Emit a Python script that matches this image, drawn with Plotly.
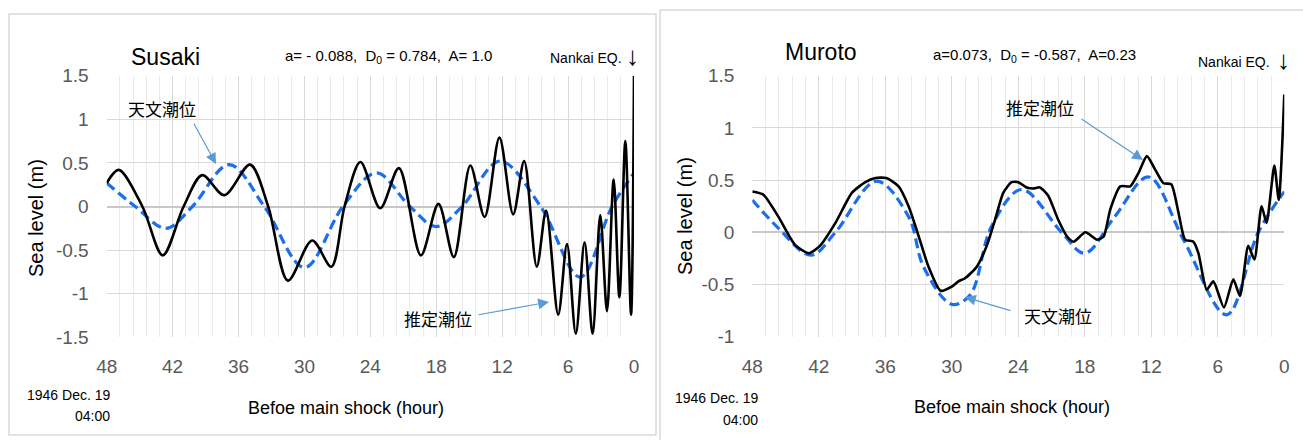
import plotly.graph_objects as go

# ---------------- data ----------------
hour_ticks = [48, 42, 36, 30, 24, 18, 12, 6, 0]
hour_tick_text = ["48", "42", "36", "30", "24", "18", "12", "6", "0"]

susaki_y_ticks = [1.5, 1.0, 0.5, 0.0, -0.5, -1.0, -1.5]
susaki_y_text = ["1.5", "1", "0.5", "0", "-0.5", "-1", "-1.5"]
muroto_y_ticks = [1.5, 1.0, 0.5, 0.0, -0.5, -1.0]
muroto_y_text = ["1.5", "1", "0.5", "0", "-0.5", "-1"]

# Susaki: estimated tide (black)
susaki_est_h = [48, 46.9, 44.75, 42.9, 41.0, 39.3, 37.3, 34.95, 33.3, 31.5, 29.3, 27.55,
                26.35, 24.9, 23.1, 21.4, 19.4, 17.8, 16.4, 14.9, 13.6, 12.25, 11.0, 10.0,
                8.85, 8.0, 6.9, 6.1, 5.3, 4.5, 3.77, 3.07, 2.46, 1.85, 1.33, 0.79, 0.27, 0.0]
susaki_est_v = [0.27, 0.42, 0.0, -0.56, 0.0, 0.36, 0.13, 0.48, 0.0, -0.85, -0.39, -0.69,
                0.0, 0.51, -0.02, 0.44, -0.56, 0.03, -0.58, 0.47, -0.12, 0.79, -0.09, 0.52,
                -0.69, -0.05, -1.24, -0.43, -1.46, -0.41, -1.46, -0.1, -1.2, 0.31, -1.04, 0.75, -1.24, 1.5]

# Susaki: astronomical tide (blue dashed)
susaki_ast_h = [48, 45.4, 42.6, 40.2, 36.85, 33.65, 30.0, 26.5, 23.45, 20.4, 18.0, 15.65,
                12.2, 8.5, 4.9, 2.0, 0.0]
susaki_ast_v = [0.27, 0.0, -0.25, 0.0, 0.48, 0.0, -0.7, 0.0, 0.385, 0.0, -0.23, 0.0,
                0.52, 0.0, -0.81, 0.0, 0.385]

# Muroto: estimated tide (black)
muroto_est_h = [48, 47.0, 45.65, 44.15, 42.9, 41.9, 40.5, 39.0, 37.8, 36.9, 35.9, 34.8,
                33.9, 33.1, 32.1, 31.0, 30.0, 29.4, 28.8, 27.75, 26.85, 26.1, 25.35, 24.6,
                24.0, 23.25, 22.65, 22.05, 21.3, 20.4, 19.6, 19.0, 17.95, 16.9, 16.3, 15.7,
                14.8, 13.9, 13.15, 12.4, 11.65, 10.9, 10.2, 9.55, 8.95, 8.2, 7.75, 7.0,
                6.4, 5.45, 4.6, 4.0, 3.25, 2.7, 2.05, 1.6, 0.9, 0.5, 0.0]
muroto_est_v = [0.39, 0.36, 0.15, -0.12, -0.2, -0.13, 0.09, 0.38, 0.48, 0.52, 0.52, 0.44,
                0.25, 0.0, -0.33, -0.56, -0.52, -0.47, -0.44, -0.33, -0.13, 0.12, 0.38, 0.48,
                0.48, 0.43, 0.42, 0.43, 0.35, 0.12, -0.04, -0.09, 0.0, -0.07, -0.04, 0.22,
                0.44, 0.44, 0.57, 0.73, 0.6, 0.47, 0.46, 0.19, -0.07, -0.09, -0.2, -0.55,
                -0.47, -0.72, -0.45, -0.61, -0.13, -0.26, 0.25, 0.09, 0.64, 0.31, 1.32]

# Muroto: astronomical tide (blue dashed)
muroto_ast_h = [48, 45.65, 42.7, 40.5, 36.8, 33.9, 32.55, 30.0, 28.35, 26.4, 23.7, 20.1,
                18.0, 15.3, 12.25, 9.1, 5.2, 2.35, 0.0]
muroto_ast_v = [0.31, 0.04, -0.22, 0.0, 0.49, 0.15, -0.33, -0.69, -0.6, 0.06, 0.41, 0.0,
                -0.2, 0.15, 0.53, -0.07, -0.79, 0.0, 0.39]

# ---------------- styling ----------------
W, H = 1303, 440
SANS = "Liberation Sans, Arial, sans-serif"
CJK = "Noto Sans CJK JP, Noto Sans CJK SC, sans-serif"
BLUE = "#1C6FE8"
ARROW = "#5B9BD5"
TICK = "#595959"


def px(x):
    return x / W


def py(y):
    return 1 - y / H


fig = go.Figure()

fig.add_trace(go.Scatter(x=susaki_ast_h, y=susaki_ast_v, mode="lines", xaxis="x", yaxis="y",
                         line=dict(color=BLUE, width=3.2, dash="10px,5px", shape="spline", smoothing=1.0),
                         showlegend=False, hoverinfo="skip"))
fig.add_trace(go.Scatter(x=susaki_est_h, y=susaki_est_v, mode="lines", xaxis="x", yaxis="y",
                         line=dict(color="black", width=2.6, shape="spline", smoothing=0.9),
                         showlegend=False, hoverinfo="skip"))
fig.add_trace(go.Scatter(x=muroto_ast_h, y=muroto_ast_v, mode="lines", xaxis="x2", yaxis="y2",
                         line=dict(color=BLUE, width=3.2, dash="10px,5px", shape="spline", smoothing=1.0),
                         showlegend=False, hoverinfo="skip"))
fig.add_trace(go.Scatter(x=muroto_est_h, y=muroto_est_v, mode="lines", xaxis="x2", yaxis="y2",
                         line=dict(color="black", width=2.6, shape="spline", smoothing=0.6),
                         showlegend=False, hoverinfo="skip"))

xcommon = dict(range=[48, 0], tickvals=hour_ticks, ticktext=hour_tick_text,
               showgrid=True, gridcolor="#D9D9D9", gridwidth=1.2,
               minor=dict(dtick=1.2, tick0=0, showgrid=True, gridcolor="#EBEBEB", gridwidth=1),
               zeroline=False, showline=False, ticks="", automargin=False,
               tickfont=dict(family=SANS, size=19, color=TICK), ticklabelstandoff=16,
               fixedrange=True)
ycommon = dict(showgrid=True, gridcolor="#D9D9D9", gridwidth=1.2,
               zeroline=True, zerolinecolor="#C8C8C8", zerolinewidth=1.5,
               showline=False, ticks="", automargin=False,
               tickfont=dict(family=SANS, size=19, color=TICK), ticklabelstandoff=17,
               fixedrange=True)

fig.update_layout(
    template="none",
    width=W, height=H, autosize=False,
    margin=dict(l=0, r=0, t=0, b=0, pad=0, autoexpand=False),
    paper_bgcolor="white", plot_bgcolor="white", showlegend=False,
    xaxis=dict(domain=[px(106.7), px(634)], anchor="y", **xcommon),
    yaxis=dict(domain=[py(337.3), py(75.7)], anchor="x", range=[-1.5, 1.5],
               tickvals=susaki_y_ticks, ticktext=susaki_y_text, **ycommon),
    xaxis2=dict(domain=[px(752.3), px(1284.3)], anchor="y2", **xcommon),
    yaxis2=dict(domain=[py(336.7), py(75.7)], anchor="x2", range=[-1, 1.5],
                tickvals=muroto_y_ticks, ticktext=muroto_y_text, **ycommon),
)

# panel frames
fig.add_shape(type="rect", xref="paper", yref="paper", x0=px(9), x1=px(656), y0=py(435), y1=py(14),
              line=dict(color="#D9D9D9", width=1.5), layer="below")
fig.add_shape(type="line", xref="paper", yref="paper", x0=px(660), x1=px(660), y0=0, y1=py(10),
              line=dict(color="#D9D9D9", width=1.5), layer="below")
fig.add_shape(type="line", xref="paper", yref="paper", x0=px(660), x1=1, y0=py(10), y1=py(10),
              line=dict(color="#D9D9D9", width=1.5), layer="below")


def txt(x, y, s, size, family=SANS, color="black", xanchor="center", yanchor="middle", angle=0):
    fig.add_annotation(x=px(x), y=py(y), xref="paper", yref="paper", text=s, showarrow=False,
                       font=dict(family=family, size=size, color=color), textangle=angle,
                       xanchor=xanchor, yanchor=yanchor)


def arrow(x0, y0, x1, y1):
    # tail (x0, y0) -> head (x1, y1) in pixels
    fig.add_annotation(x=px(x1), y=py(y1), xref="paper", yref="paper", text="",
                       showarrow=True, ax=x0 - x1, ay=y0 - y1, axref="pixel", ayref="pixel",
                       arrowhead=2, arrowsize=1.8, arrowwidth=1.2, arrowcolor=ARROW)


# Susaki panel texts
txt(165, 57, "Susaki", 23)
txt(389, 57, "a= - 0.088,  D<sub>0</sub> = 0.784,  A= 1.0", 15)
txt(586, 58, "Nankai EQ.", 14)
txt(632, 56, "↓", 26)
txt(36, 218, "Sea level (m)", 20, angle=-90)
txt(346, 408, "Befoe main shock (hour)", 18)
txt(112, 395, "1946 Dec. 19", 14, xanchor="right")
txt(112, 416, "04:00", 14, xanchor="right")
txt(162, 108, "天文潮位", 17, family=CJK)
arrow(193, 122, 216, 164)
txt(438, 318, "推定潮位", 17, family=CJK)
arrow(477, 315, 549, 302)

# Muroto panel texts
txt(821, 52, "Muroto", 23)
txt(1034, 55, "a=0.073,  D<sub>0</sub> = -0.587,  A=0.23", 15)
txt(1234, 62, "Nankai EQ.", 14)
txt(1283, 60, "↓", 26)
txt(685, 216, "Sea level (m)", 20, angle=-90)
txt(1012, 407, "Befoe main shock (hour)", 18)
txt(760, 398, "1946 Dec. 19", 14, xanchor="right")
txt(760, 420, "04:00", 14, xanchor="right")
txt(1040, 107, "推定潮位", 17, family=CJK)
arrow(1080, 118, 1143, 160)
txt(1058, 315, "天文潮位", 17, family=CJK)
arrow(1012, 311, 965, 297)

fig.write_html("out.html", config={"displayModeBar": False},
               post_script="document.body.style.margin='0px';document.body.style.overflow='hidden';")
